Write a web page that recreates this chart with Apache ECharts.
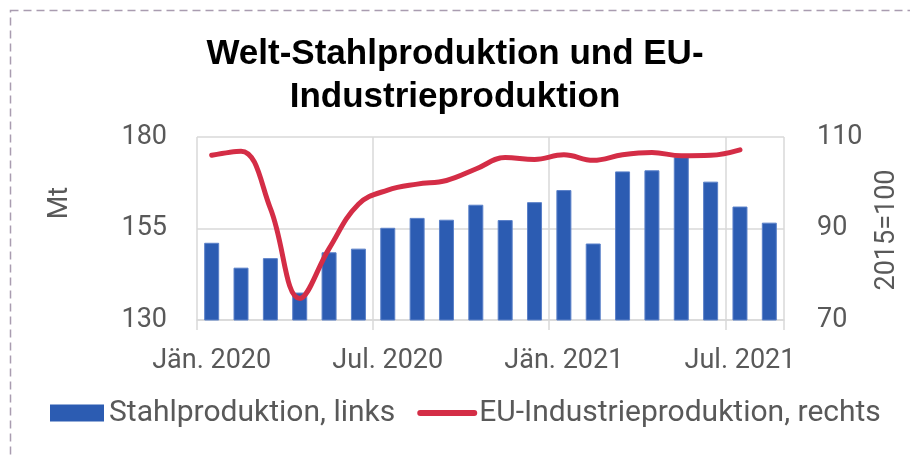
<!DOCTYPE html>
<html>
<head>
<meta charset="utf-8">
<script src="https://cdn.jsdelivr.net/npm/echarts@6/dist/echarts.min.js"></script>
<style>
  html, body { margin: 0; padding: 0; background: #fff; }
  #chart { width: 910px; height: 459px; }
</style>
</head>
<body>
<div id="chart"></div>
<script>
// Monate Jän. 2020 bis Aug. 2021
const months = [
  'Jän. 2020', 'Feb. 2020', 'Mär. 2020', 'Apr. 2020', 'Mai 2020', 'Jun. 2020',
  'Jul. 2020', 'Aug. 2020', 'Sep. 2020', 'Okt. 2020', 'Nov. 2020', 'Dez. 2020',
  'Jän. 2021', 'Feb. 2021', 'Mär. 2021', 'Apr. 2021', 'Mai 2021', 'Jun. 2021',
  'Jul. 2021', 'Aug. 2021'
]

// Welt-Stahlproduktion (Mt, linke Achse)
const steel = [151.1, 144.3, 146.9, 137.5, 148.5, 149.5, 155.2, 157.9, 157.4, 161.5,
  157.3, 162.2, 165.5, 150.9, 170.6, 170.9, 174.5, 167.8, 161.0, 156.6]

// EU-Industrieproduktion (2015=100, rechte Achse)
const industry = [106.0, 106.9, 94.4, 74.7, 85.6, 95.3, 98.4, 99.7, 100.5, 103.0,
  105.5, 105.1, 106.1, 104.9, 106.1, 106.6, 105.9, 106.0, 107.2]

const textColor = '#595959'
const gridColor = '#D9D9D9'
const font = 'Roboto'

const chart = echarts.init(document.getElementById('chart'))

chart.setOption({
  animation: false,
  title: {
    text: 'Welt-Stahlproduktion und EU-\nIndustrieproduktion',
    left: 'center',
    top: 28,
    textStyle: {
      fontFamily: 'Liberation Sans',
      fontSize: 35,
      fontWeight: 'bold',
      color: '#000',
      lineHeight: 43
    }
  },
  legend: {
    left: 50,
    top: 398,
    padding: 0,
    itemWidth: 54,
    itemHeight: 17,
    itemGap: 22,
    textStyle: { fontFamily: font, fontSize: 30, color: textColor },
    data: [
      { name: 'Stahlproduktion, links', icon: 'rect', itemStyle: { borderWidth: 0 } },
      {
        name: 'EU-Industrieproduktion, rechts',
        itemStyle: { opacity: 0 },
        lineStyle: { width: 6, cap: 'round', color: '#D42D46' }
      }
    ]
  },
  grid: { left: 197, right: 126, top: 137, bottom: 139 },
  xAxis: {
    type: 'category',
    data: months,
    boundaryGap: true,
    axisLine: { lineStyle: { color: gridColor, width: 1.5 } },
    axisTick: { show: true, interval: 5, length: 10, lineStyle: { color: gridColor, width: 1.5 } },
    axisLabel: {
      interval: 5,
      margin: 28,
      fontFamily: font,
      fontSize: 27,
      color: textColor
    },
    splitLine: { show: true, interval: 5, lineStyle: { color: gridColor, width: 1.5 } }
  },
  yAxis: [
    {
      type: 'value',
      min: 130,
      max: 180,
      interval: 25,
      axisLine: { show: false },
      axisTick: { show: false },
      axisLabel: { margin: 30, fontFamily: font, fontSize: 27, color: textColor },
      splitLine: { lineStyle: { color: gridColor, width: 1.5 } }
    },
    {
      type: 'value',
      min: 70,
      max: 110,
      interval: 20,
      axisLine: { show: false },
      axisTick: { show: false },
      axisLabel: { margin: 33, fontFamily: font, fontSize: 27, color: textColor },
      splitLine: { show: false }
    }
  ],
  graphic: [
    {
      type: 'rect',
      silent: true,
      shape: { x: 10.5, y: 10.5, width: 1000, height: 600 },
      style: { fill: 'none', stroke: '#A99CB0', lineWidth: 1.5, lineDash: [8, 5] }
    },
    {
      type: 'text',
      x: 60,
      y: 203,
      rotation: Math.PI / 2,
      style: {
        text: 'Mt',
        fontFamily: font,
        fontSize: 27,
        fill: textColor,
        align: 'center',
        verticalAlign: 'middle'
      }
    },
    {
      type: 'text',
      x: 887,
      y: 230,
      rotation: Math.PI / 2,
      style: {
        text: '2015=100',
        fontFamily: font,
        fontSize: 27,
        fill: textColor,
        align: 'center',
        verticalAlign: 'middle'
      }
    }
  ],
  series: [
    {
      name: 'Stahlproduktion, links',
      type: 'bar',
      data: steel,
      barWidth: 15,
      itemStyle: { color: '#2C5CB2', borderColor: '#5B81C9', borderWidth: 1 }
    },
    {
      name: 'EU-Industrieproduktion, rechts',
      type: 'line',
      yAxisIndex: 1,
      data: industry,
      smooth: 0.4,
      symbol: 'none',
      z: 5,
      lineStyle: { color: '#D42D46', width: 5, cap: 'round' },
      itemStyle: { color: '#D42D46' }
    }
  ]
})
</script>
</body>
</html>
